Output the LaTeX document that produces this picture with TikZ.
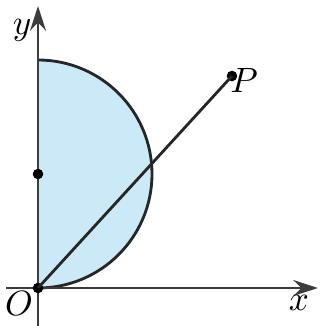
\documentclass[tikz,border=0pt]{standalone}
\usetikzlibrary{arrows.meta}
\definecolor{diskblue}{RGB}{203,233,247}
\definecolor{axisgray}{RGB}{60,60,60}
\tikzset{
  axis/.style={draw=axisgray, line width=0.8pt, -{Stealth[length=7pt,width=4.5pt]}},
  curve/.style={draw=black!85, line width=0.8pt},
  lbl/.style={font=\itshape, inner sep=0pt},
  dotpt/.style={circle, fill=black, inner sep=0pt, minimum size=3pt}
}
\begin{document}
\begin{tikzpicture}
\useasboundingbox (0,0) rectangle (3.23,3.26);
\coordinate (O) at (0.38,0.38);
\coordinate (C) at (0.38,1.52);
\coordinate (xs) at (0.06,0.38);
\coordinate (xe) at (3.18,0.38);
\coordinate (ys) at (0.38,0.0);
\coordinate (ye) at (0.38,3.20);
% half disk
\fill[diskblue] (O) arc[start angle=-90, end angle=90, radius=1.14] -- cycle;
\draw[curve] (O) arc[start angle=-90, end angle=90, radius=1.14];
% axes
\draw[axis] (xs) -- (xe);
\draw[axis] (ys) -- (ye);
% line OP
\node[dotpt] (P) at (2.32,2.50) {};
\node[dotpt] (Cd) at (C) {};
\node[dotpt] (Od) at (O) {};
\draw[curve] (O) -- (P.center);
% labels
\node[lbl] (Pl) at (2.44,2.46) {$P$};
\node[lbl] (yl) at (0.22,2.96) {$y$};
\node[lbl] (Ol) at (0.19,0.23) {$O$};
\node[lbl] (xl) at (2.99,0.23) {$x$};
\end{tikzpicture}
\end{document}
